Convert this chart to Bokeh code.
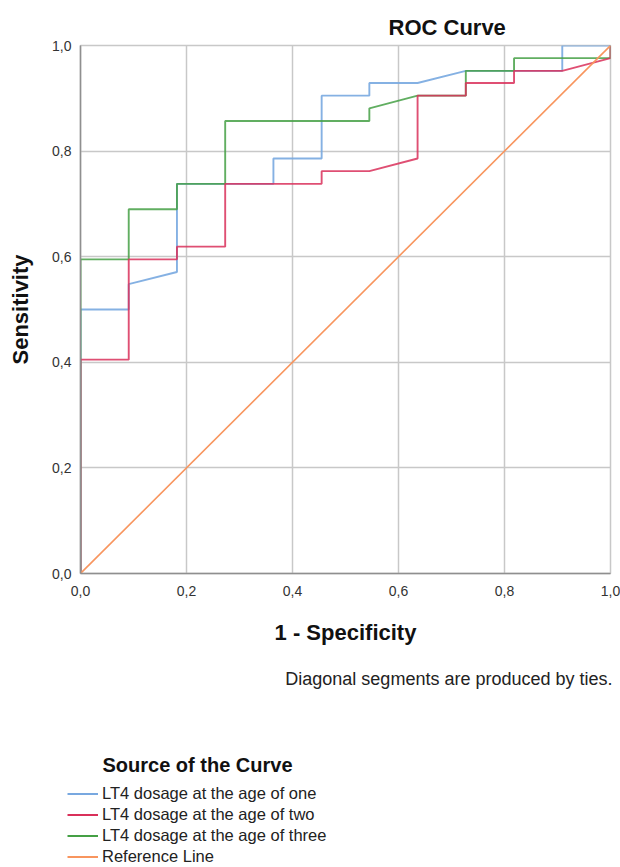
from bokeh.plotting import figure
from bokeh.layouts import column
from bokeh.models import Range1d, FixedTicker, Label, Legend, LegendItem
from bokeh.embed import file_html
from bokeh.resources import INLINE

FONT = "Liberation Sans"

# ---- data ----
x_ticks = [0, 0.2, 0.4, 0.6, 0.8, 1]
x_tick_labels = ["0,0", "0,2", "0,4", "0,6", "0,8", "1,0"]
y_ticks = [0, 0.2, 0.4, 0.6, 0.8, 1]
y_tick_labels = ["0,0", "0,2", "0,4", "0,6", "0,8", "1,0"]

series_names = ["LT4 dosage at the age of one", "LT4 dosage at the age of two",
                "LT4 dosage at the age of three", "Reference Line"]

one_fpr = [0, 0, 0.091, 0.091, 0.182, 0.182, 0.364, 0.364, 0.455, 0.455, 0.545, 0.545, 0.636, 0.727, 0.909, 0.909, 1.0]
one_tpr = [0, 0.500, 0.500, 0.548, 0.571, 0.738, 0.738, 0.786, 0.786, 0.905, 0.905, 0.929, 0.929, 0.952, 0.952, 1.0, 1.0]

two_fpr = [0, 0, 0.091, 0.091, 0.182, 0.182, 0.273, 0.273, 0.455, 0.455, 0.545, 0.636, 0.636, 0.727, 0.727, 0.818, 0.818, 0.909, 1.0, 1.0]
two_tpr = [0, 0.405, 0.405, 0.595, 0.595, 0.619, 0.619, 0.738, 0.738, 0.762, 0.762, 0.786, 0.905, 0.905, 0.929, 0.929, 0.952, 0.952, 0.976, 1.0]

three_fpr = [0, 0, 0.091, 0.091, 0.182, 0.182, 0.273, 0.273, 0.545, 0.545, 0.636, 0.727, 0.727, 0.818, 0.818, 1.0, 1.0]
three_tpr = [0, 0.595, 0.595, 0.690, 0.690, 0.738, 0.738, 0.857, 0.857, 0.881, 0.905, 0.905, 0.952, 0.952, 0.976, 0.976, 1.0]

ref_fpr = [0, 1]
ref_tpr = [0, 1]

series_x = [one_fpr, two_fpr, three_fpr, ref_fpr]
series_y = [one_tpr, two_tpr, three_tpr, ref_tpr]

colors = ["#78a8e0", "#d9305a", "#45a045", "#f8955e"]

W = 620
H1 = 655
H2 = 867 - H1

# ---- main chart ----
p = figure(width=W, height=H1, output_backend="svg", toolbar_location=None,
           x_range=Range1d(0, 1), y_range=Range1d(0, 1),
           min_border_left=80, min_border_right=10, min_border_top=45,
           min_border_bottom=H1 - 573)
p.title.text = "ROC Curve"
p.title.align = "left"
p.title.offset = 308
p.title.standoff = 12
p.title.text_font = FONT
p.title.text_font_size = "22px"
p.title.text_font_style = "bold"
p.title.text_color = "#111111"
p.background_fill_color = "white"
p.border_fill_color = "white"
p.outline_line_color = "#c8c8c8"
p.outline_line_width = 1.5

xt = FixedTicker(ticks=x_ticks)
yt = FixedTicker(ticks=y_ticks)
p.xaxis.ticker = xt
p.yaxis.ticker = yt
p.xgrid.ticker = xt
p.ygrid.ticker = yt
p.xaxis.major_label_overrides = dict(zip(x_ticks, x_tick_labels))
p.yaxis.major_label_overrides = dict(zip(y_ticks, y_tick_labels))
p.grid.grid_line_color = "#c8c8c8"
p.grid.grid_line_width = 1.5

for ax in (p.xaxis[0], p.yaxis[0]):
    ax.major_tick_in = 0
    ax.major_tick_out = 0
    ax.minor_tick_in = 0
    ax.minor_tick_out = 0
    ax.axis_line_color = "#8f8f8f"
    ax.axis_line_width = 1.5
    ax.major_label_text_font = FONT
    ax.major_label_text_font_size = "14px"
    ax.major_label_text_color = "#333333"
    ax.axis_label_text_font = FONT
    ax.axis_label_text_font_size = "22px"
    ax.axis_label_text_font_style = "bold"
    ax.axis_label_text_color = "#111111"

p.xaxis.major_label_standoff = 12
p.yaxis.major_label_standoff = 9
p.xaxis.axis_label = "1 - Specificity"
p.yaxis.axis_label = "Sensitivity"
p.xaxis.axis_label_standoff = 21
p.yaxis.axis_label_standoff = 16

draw_order = [0, 2, 1, 3]
alphas = [0.9, 0.85, 0.85, 1.0]
widths = [1.9, 1.9, 1.9, 1.6]
for i in draw_order:
    p.line(series_x[i], series_y[i], line_color=colors[i], line_width=widths[i], line_alpha=alphas[i])

# ---- footnote and legend panel (pixel space, y measured from its top) ----
q = figure(width=W, height=H2, output_backend="svg", toolbar_location=None,
           x_range=Range1d(0, W), y_range=Range1d(H2, 0),
           x_axis_location=None, y_axis_location=None,
           min_border=0, min_border_left=0, min_border_right=0,
           min_border_top=0, min_border_bottom=0)
q.frame_align = False
q.title.text = ""
q.title.visible = False
q.grid.visible = False
q.outline_line_color = None
q.background_fill_color = "white"
q.border_fill_color = "white"

# legend keys: the same series, not drawn in this panel (only their legend glyphs show)
key_renderers = [q.line(series_x[i], series_y[i], line_color=colors[i], line_width=2, visible=False)
                 for i in range(4)]

legend = Legend(items=[LegendItem(label=n, renderers=[r]) for n, r in zip(series_names, key_renderers)],
                location=(67, 0), orientation="vertical",
                glyph_width=31, glyph_height=21, label_height=21, label_standoff=4,
                spacing=0, padding=0, margin=0,
                label_text_font=FONT, label_text_font_size="16.5px", label_text_color="#222222",
                border_line_alpha=0, background_fill_alpha=0)
q.add_layout(legend, "center")

note = Label(x=612, y=678 - H1, text="Diagonal segments are produced by ties.",
             text_font=FONT, text_font_size="18px", text_align="right",
             text_baseline="middle", text_color="#222222")
leg_title = Label(x=102, y=764 - H1, text="Source of the Curve", text_font=FONT,
                  text_font_size="20px", text_font_style="bold", text_align="left",
                  text_baseline="middle", text_color="#111111")
q.add_layout(note)
q.add_layout(leg_title)

layout = column(p, q, spacing=0)
open("out.html", "w").write(file_html(layout, INLINE))
